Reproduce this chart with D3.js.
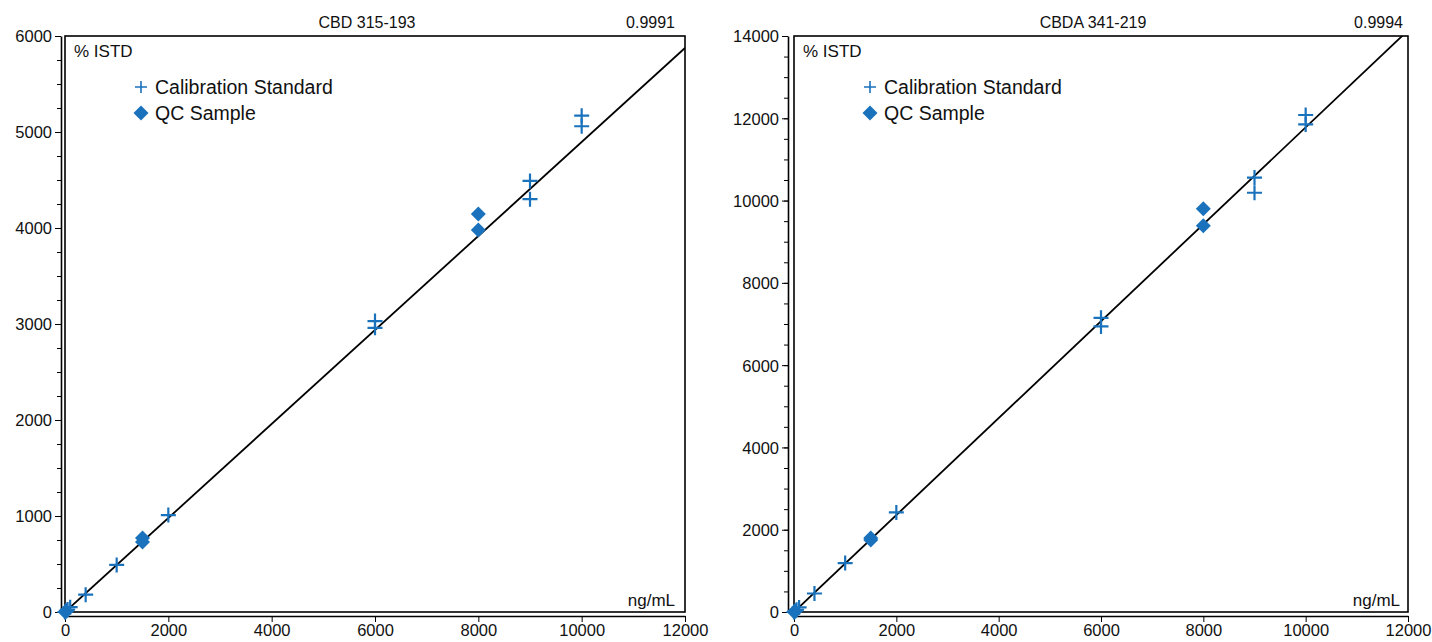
<!DOCTYPE html>
<html>
<head>
<meta charset="utf-8">
<script src="https://cdn.jsdelivr.net/npm/d3@7"></script>
<style>
  body { margin: 0; background: #fff; }
  svg text { font-family: "Liberation Sans", Arial, Helvetica, sans-serif; fill: #111; }
</style>
</head>
<body>
<div id="chart"></div>
<script>
// calibration curves, two analytes
var w = 1432, h = 642;
var blue = "#1a72bd";

var titles = ["CBD 315-193", "CBDA 341-219"];
var r2 = ["0.9991", "0.9994"];
var yMax = [6000, 14000];
var yStep = [1000, 2000];
var xTicks = [0, 2000, 4000, 6000, 8000, 10000, 12000];

// calibration standards (ng/mL, % ISTD)
var calX_cbd = [0, 25, 50, 100, 400, 1000, 2000, 6000, 6000, 9000, 9000, 10000, 10000];
var calY_cbd = [0, 12, 25, 50, 180, 490, 1010, 3030, 2960, 4490, 4300, 5170, 5060];
var qcX_cbd = [5, 15, 1500, 1500, 8000, 8000];
var qcY_cbd = [0, 5, 770, 730, 4145, 3980];
var fit_cbd = [0.4896, 0];

var calX_cbda = [0, 25, 50, 100, 400, 1000, 2000, 6000, 6000, 9000, 9000, 10000, 10000];
var calY_cbda = [0, 25, 55, 110, 450, 1190, 2420, 7150, 6940, 10560, 10190, 12080, 11850];
var qcX_cbda = [5, 15, 1500, 1500, 8000, 8000];
var qcY_cbda = [0, 10, 1800, 1750, 9800, 9390];
var fit_cbda = [1.178, 0];

var panels = [
  {left: 65, right: 685, axisX: 61, calX: calX_cbd, calY: calY_cbd, qcX: qcX_cbd, qcY: qcY_cbd, fit: fit_cbd, rOff: 10, unitOff: 10},
  {left: 794, right: 1408, axisX: 788, calX: calX_cbda, calY: calY_cbda, qcX: qcX_cbda, qcY: qcY_cbda, fit: fit_cbda, rOff: 5, unitOff: 8}
];
var plotTop = 36, plotBottom = 612, axisY = 616;

var svg = d3.select("#chart").append("svg")
            .attr("width", w)
            .attr("height", h);

panels.forEach(function (p, i) {
  var x = d3.scaleLinear().domain([0, 12000]).range([p.left, p.right]);
  var y = d3.scaleLinear().domain([0, yMax[i]]).range([plotBottom, plotTop]);
  var g = svg.append("g");

  // y axis, minor ticks first
  g.append("g")
   .attr("transform", "translate(" + p.axisX + ",0)")
   .call(d3.axisLeft(y).tickValues(d3.range(0, yMax[i] + 1, yStep[i] / 4)).tickSize(4).tickFormat(""))
   .call(function (a) { a.select(".domain").remove(); });
  var ya = g.append("g")
   .attr("transform", "translate(" + p.axisX + ",0)")
   .call(d3.axisLeft(y).tickValues(d3.range(0, yMax[i] + 1, yStep[i])).tickSize(6).tickSizeOuter(0).tickPadding(3).tickFormat(d3.format("d")));
  ya.select(".domain").attr("stroke-width", 1.6);
  ya.selectAll("text").attr("font-size", 16.5).attr("dy", "0.36em");

  // x axis
  var xa = g.append("g")
   .attr("transform", "translate(0," + axisY + ")")
   .call(d3.axisBottom(x).tickValues(xTicks).tickSize(6).tickSizeOuter(0).tickPadding(2).tickFormat(d3.format("d")));
  xa.select(".domain").attr("stroke-width", 1.6);
  xa.selectAll("text").attr("font-size", 16.5);

  // plot box
  g.append("rect")
   .attr("x", p.left).attr("y", plotTop)
   .attr("width", p.right - p.left).attr("height", plotBottom - plotTop)
   .attr("fill", "none").attr("stroke", "#000").attr("stroke-width", 1.6);

  var clipId = "clip" + i;
  svg.append("clipPath").attr("id", clipId)
     .append("rect")
     .attr("x", p.left).attr("y", plotTop)
     .attr("width", p.right - p.left).attr("height", plotBottom - plotTop);

  // fitted line
  g.append("line")
   .attr("clip-path", "url(#" + clipId + ")")
   .attr("x1", x(0)).attr("y1", y(p.fit[1]))
   .attr("x2", x(12000)).attr("y2", y(p.fit[0] * 12000 + p.fit[1]))
   .attr("stroke", "#000").attr("stroke-width", 1.8);

  // QC samples (diamonds)
  g.selectAll(".qc")
   .data(d3.zip(p.qcX, p.qcY))
   .enter().append("rect")
   .attr("class", "qc")
   .attr("x", -5.3).attr("y", -5.3).attr("width", 10.6).attr("height", 10.6)
   .attr("transform", function (d) { return "translate(" + x(d[0]) + "," + y(d[1]) + ") rotate(45)"; })
   .attr("fill", blue);

  // calibration standards (plus)
  g.selectAll(".cal")
   .data(d3.zip(p.calX, p.calY))
   .enter().append("path")
   .attr("class", "cal")
   .attr("d", "M-7.5,0H7.5M0,-7.5V7.5")
   .attr("transform", function (d) { return "translate(" + x(d[0]) + "," + y(d[1]) + ")"; })
   .attr("stroke", blue).attr("stroke-width", 2.2).attr("fill", "none");

  // labels
  g.append("text")
   .attr("x", (p.left + p.right) / 2 - 8).attr("y", 28)
   .attr("text-anchor", "middle").attr("font-size", 16)
   .text(titles[i]);
  g.append("text")
   .attr("x", p.right - p.rOff).attr("y", 28)
   .attr("text-anchor", "end").attr("font-size", 16)
   .text(r2[i]);
  g.append("text")
   .attr("x", p.left + 9).attr("y", 57)
   .attr("font-size", 17)
   .text("% ISTD");
  g.append("text")
   .attr("x", p.right - p.unitOff).attr("y", 606)
   .attr("text-anchor", "end").attr("font-size", 17)
   .text("ng/mL");

  // legend
  var lx = p.left + 76;
  g.append("path")
   .attr("d", "M-6,0H6M0,-6V6")
   .attr("transform", "translate(" + lx + ",87)")
   .attr("stroke", blue).attr("stroke-width", 1.6);
  g.append("text")
   .attr("x", lx + 14).attr("y", 94)
   .attr("font-size", 19.5)
   .text("Calibration Standard");
  g.append("rect")
   .attr("x", -5.3).attr("y", -5.3).attr("width", 10.6).attr("height", 10.6)
   .attr("transform", "translate(" + lx + ",113) rotate(45)")
   .attr("fill", blue);
  g.append("text")
   .attr("x", lx + 14).attr("y", 120)
   .attr("font-size", 19.5)
   .text("QC Sample");
});
</script>
</body>
</html>
